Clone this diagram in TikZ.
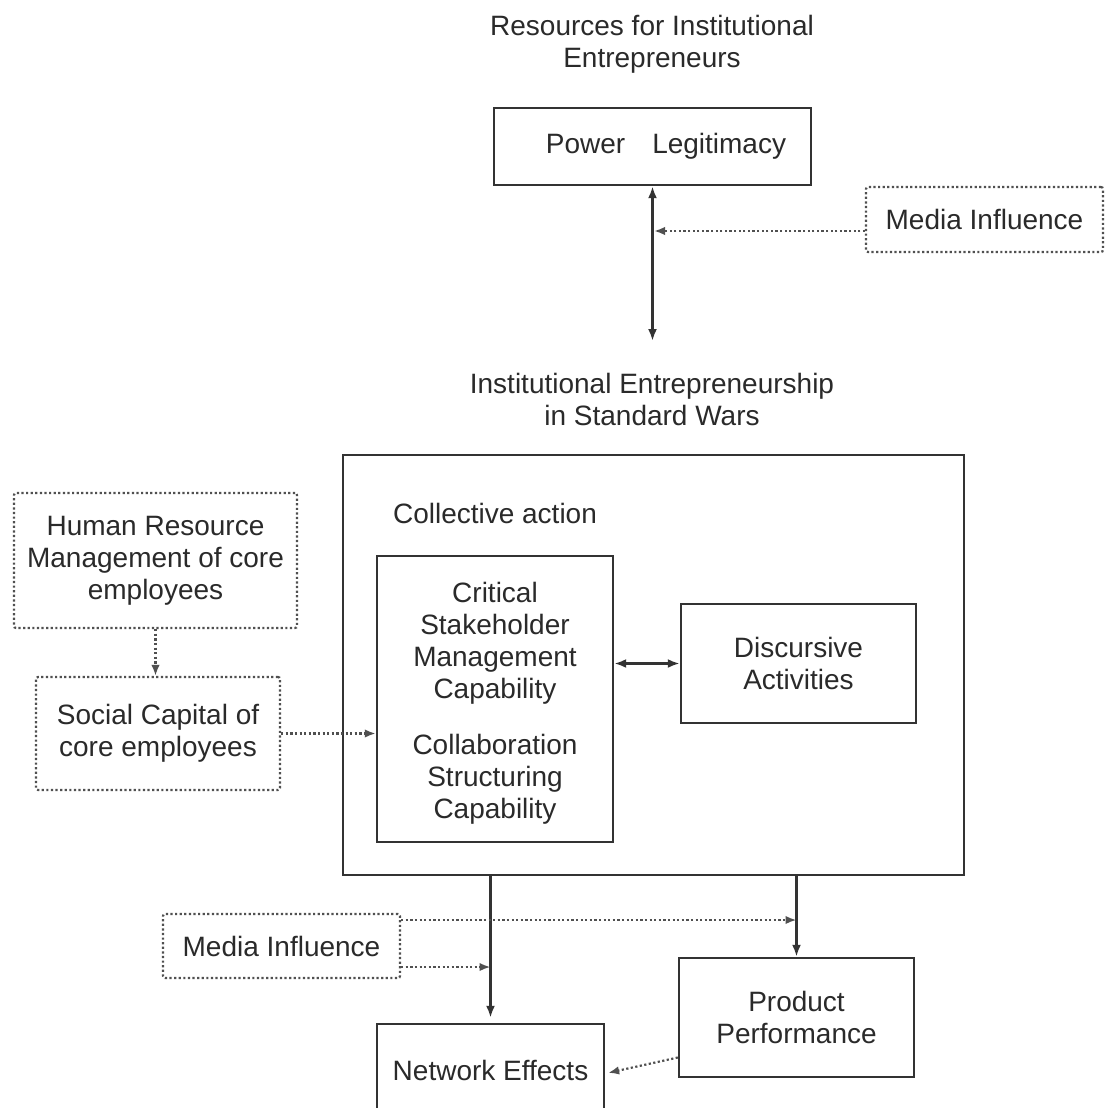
\documentclass[tikz,border=0pt]{standalone}
\usepackage{fontspec}
\setmainfont{Liberation Sans}
\usetikzlibrary{arrows.meta,calc}
\definecolor{ink}{HTML}{2A2A2A}
\definecolor{linec}{HTML}{333333}
\definecolor{dotc}{HTML}{505050}
\tikzset{
  txt/.style={text=ink, align=center, inner sep=0pt, font=\fontsize{28}{32}\selectfont},
  solidbox/.style={draw=linec, line width=2.4pt, txt},
  dotbox/.style={draw=dotc, line width=2.2pt, dash pattern=on 2.2pt off 2.4pt, rounded corners=2pt, txt},
  tip/.style={-{Latex[length=12pt,width=9pt]}},
  arr/.style={draw=linec, line width=2.4pt, tip},
  dblarr/.style={draw=linec, line width=2.4pt, {Latex[length=12pt,width=9pt]}-{Latex[length=12pt,width=9pt]}},
  dotarr/.style={draw=dotc, line width=2.2pt, dash pattern=on 2.2pt off 2.4pt, -{Latex[length=11pt,width=8.5pt]}}
}
\begin{document}
\begin{tikzpicture}[x=1pt,y=-1pt]
\useasboundingbox[fill=white] (0,0) rectangle (1105,1108);

% titles
\node[txt] (t1) at (652,44) {Resources for Institutional\\Entrepreneurs};
\node[txt] (t2) at (652,399.5) {Institutional Entrepreneurship\\in Standard Wars};

% top part
\node[solidbox, minimum width=317pt, minimum height=77pt] (plbox) at (652.5,146.5) {\hspace*{27pt}Power\hspace{27pt}Legitimacy};
\node[dotbox, minimum width=237pt, minimum height=65pt] (mi1) at (984.5,219.5) {Media Influence};
\coordinate (ie) at (652.5,341);
\coordinate (m1t) at (654,231);
\draw[dblarr] (plbox.south) -- (ie);
\draw[dotarr] ([yshift=-11.5pt]mi1.west) -- (m1t);

% collective action
\node[solidbox, minimum width=621pt, minimum height=420pt] (big) at (653.5,665) {};
\node[txt] (ca) at (495,513) {Collective action};
\node[solidbox, minimum width=236pt, minimum height=286pt] (inner) at (495,699) {};
\node[txt] (csm) at (495,643.5) {Critical\\Stakeholder\\Management\\Capability};
\node[txt] (csc) at (495,779.5) {Collaboration\\Structuring\\Capability};
\node[solidbox, minimum width=235pt, minimum height=119pt] (disc) at (798.5,663.5) {Discursive\\Activities};
\draw[dblarr] (inner.east |- disc.west) -- (disc.west);

% left side
\node[dotbox, minimum width=283pt, minimum height=135pt] (hrm) at (155.5,560.5) {Human Resource\\Management of core\\employees};
\node[dotbox, minimum width=244pt, minimum height=113pt] (soc) at (158,733.5) {Social Capital of\\core employees};
\draw[dotarr] (hrm.south) -- (hrm.south |- soc.north);
\draw[dotarr] (soc.east) -- (soc.east -| inner.west);

% bottom
\node[solidbox, minimum width=227pt, minimum height=93pt] (ne) at (490.5,1070.5) {Network Effects};
\node[solidbox, minimum width=235pt, minimum height=119pt] (pp) at (796.5,1017.5) {Product\\Performance};
\node[dotbox, minimum width=237pt, minimum height=64pt] (mi2) at (281.5,946) {Media Influence};
\draw[arr, shorten >=5pt] (ne.north |- big.south) -- (ne.north);
\draw[arr] (pp.north |- big.south) -- (pp.north);
\draw[dotarr] ([yshift=26pt]mi2.east) coordinate (m2a) -- (m2a -| pp.north);
\draw[dotarr] ([yshift=-21pt]mi2.east) coordinate (m2b) -- (m2b -| ne.north);
\draw[dotarr, shorten >=3pt] ([yshift=-40pt]pp.west) -- ([yshift=-3pt]ne.east);
\end{tikzpicture}
\end{document}
